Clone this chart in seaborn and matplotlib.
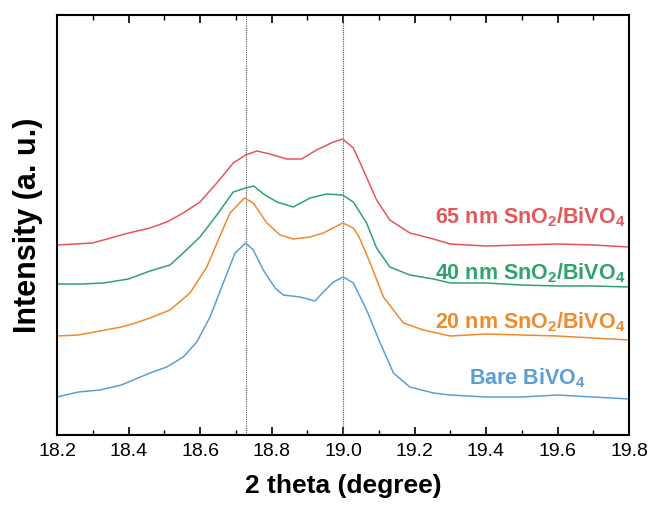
import matplotlib
matplotlib.use("Agg")
import matplotlib.pyplot as plt
import seaborn as sns
import pandas as pd
from matplotlib.ticker import MultipleLocator

# Data (y in arbitrary units, offset stacked)
x_65 = [18.2, 18.25, 18.3, 18.35, 18.4, 18.46, 18.507, 18.553, 18.6, 18.647, 18.693, 18.728, 18.759, 18.796,
        18.842, 18.884, 18.926, 18.973, 18.999, 19.029, 19.057, 19.094, 19.131, 19.187, 19.243, 19.3, 19.4,
        19.5, 19.6, 19.7, 19.8]
y_65 = [190, 191, 192, 197, 202, 207, 213, 222, 233, 252, 272, 280, 284, 281,
        276, 276, 285, 293, 296, 287, 265, 235, 215, 202, 197, 191, 189,
        190, 191, 190, 188]

x_40 = [18.2, 18.27, 18.33, 18.4, 18.46, 18.516, 18.553, 18.6, 18.647, 18.693, 18.728, 18.75, 18.778, 18.815,
        18.861, 18.908, 18.954, 18.999, 19.029, 19.066, 19.094, 19.131, 19.187, 19.253, 19.3, 19.4, 19.5,
        19.6, 19.7, 19.8]
y_40 = [151, 151, 152, 156, 164, 170, 182, 198, 220, 243, 247, 249, 241, 233,
        228, 237, 241, 240, 233, 212, 187, 168, 160, 156, 152, 152, 150,
        149, 149, 148]

x_20 = [18.2, 18.26, 18.32, 18.38, 18.42, 18.46, 18.516, 18.572, 18.619, 18.651, 18.684, 18.724, 18.749, 18.787,
        18.824, 18.861, 18.908, 18.945, 18.999, 19.029, 19.045, 19.076, 19.113, 19.169, 19.225, 19.3, 19.4,
        19.5, 19.6, 19.7, 19.8]
y_20 = [99, 100, 104, 108, 112, 117, 125, 142, 168, 195, 222, 237, 232, 212,
        200, 196, 198, 202, 212, 207, 198, 172, 138, 112, 105, 99, 101,
        100, 99, 97, 95]

x_bare = [18.2, 18.26, 18.32, 18.38, 18.42, 18.46, 18.507, 18.553, 18.591, 18.628, 18.665, 18.698, 18.728, 18.749,
          18.777, 18.81, 18.833, 18.88, 18.922, 18.945, 18.973, 19.001, 19.029, 19.066, 19.104, 19.141, 19.187,
          19.253, 19.3, 19.4, 19.5, 19.6, 19.7, 19.8]
y_bare = [38, 43, 45, 50, 56, 62, 68, 78, 93, 118, 152, 182, 192, 185,
          165, 147, 140, 138, 134, 143, 153, 158, 152, 125, 92, 62, 48,
          42, 40, 38, 38, 40, 38, 36]

series_names = ["Bare BiVO4", "20 nm", "40 nm", "65 nm"]
colors = {"Bare BiVO4": "#5b9fd6", "20 nm": "#f08a2c", "40 nm": "#2fa36b", "65 nm": "#e5575a"}
labels = {
    "65 nm": "65 nm SnO$_\\mathregular{2}$/BiVO$_\\mathregular{4}$",
    "40 nm": "40 nm SnO$_\\mathregular{2}$/BiVO$_\\mathregular{4}$",
    "20 nm": "20 nm SnO$_\\mathregular{2}$/BiVO$_\\mathregular{4}$",
    "Bare BiVO4": "Bare BiVO$_\\mathregular{4}$",
}
ref_lines = [18.73, 19.0]
xticks = [18.2, 18.4, 18.6, 18.8, 19.0, 19.2, 19.4, 19.6, 19.8]

frames = []
for name, xs, ys in [("Bare BiVO4", x_bare, y_bare), ("20 nm", x_20, y_20), ("40 nm", x_40, y_40), ("65 nm", x_65, y_65)]:
    frames.append(pd.DataFrame({"theta": xs, "intensity": ys, "sample": name}))
df = pd.concat(frames, ignore_index=True)

sns.set_style("ticks")
plt.rcParams["font.family"] = ["Liberation Sans", "DejaVu Sans"]
plt.rcParams["mathtext.fontset"] = "custom"
plt.rcParams["mathtext.rm"] = "Liberation Sans"
plt.rcParams["mathtext.bf"] = "Liberation Sans:bold"
plt.rcParams["text.color"] = "black"
plt.rcParams["axes.labelcolor"] = "black"
plt.rcParams["xtick.color"] = "black"

fig = plt.figure(figsize=(6.52, 5.11), dpi=100)
ax = fig.add_axes([57/652, 1 - 435/511, (629-57)/652, (435-15)/511])

for v in ref_lines:
    ax.axvline(v, color="#555555", lw=0.8, ls=(0, (1, 1)), zorder=1)

sns.lineplot(data=df, x="theta", y="intensity", hue="sample", palette=colors,
             hue_order=series_names, ax=ax, legend=False, lw=1.1, sort=False)

ax.set_xlim(18.2, 19.8)
ax.set_ylim(0, 420)
ax.set_yticks([])
ax.set_xticks(xticks)
ax.set_xticklabels([f"{t:.1f}" for t in xticks], fontsize=14)
ax.xaxis.set_minor_locator(MultipleLocator(0.1))
ax.tick_params(axis="x", which="both", direction="in", top=True, bottom=True)
ax.tick_params(axis="x", which="major", length=6, width=1.2, pad=6)
ax.tick_params(axis="x", which="minor", length=3.5, width=1.0)
for s in ax.spines.values():
    s.set_linewidth(1.5)
    s.set_color("black")

ax.set_xlabel("2 theta (degree)", fontsize=19, fontweight="bold", labelpad=10)
ax.set_ylabel("Intensity (a. u.)", fontsize=22, fontweight="bold", labelpad=10)

text_pos = {"65 nm": (19.79, 218), "40 nm": (19.79, 162), "20 nm": (19.79, 113), "Bare BiVO4": (19.68, 57)}
for name in series_names:
    tx, ty = text_pos[name]
    ax.text(tx, ty, labels[name], color=colors[name], fontsize=15.5, fontweight="bold",
            ha="right", va="center")

fig.savefig("out.png", dpi=100)
